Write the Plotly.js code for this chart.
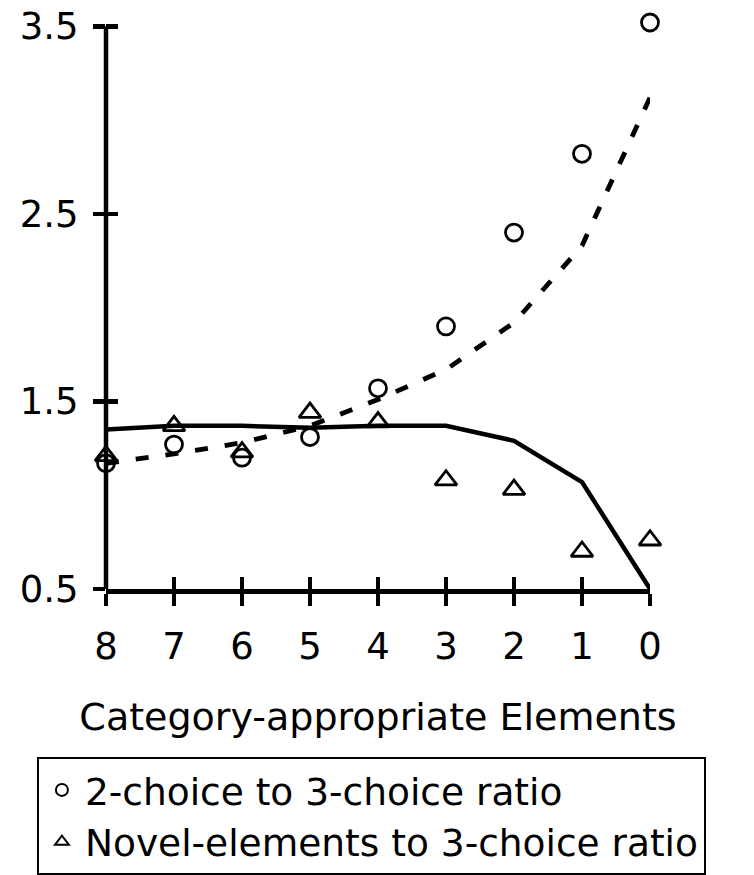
<!DOCTYPE html>
<html>
<head>
<meta charset="utf-8">
<script src="https://cdn.plot.ly/plotly-3.0.1.min.js"></script>
<style>html,body{margin:0;padding:0;background:#fff;}#chart{width:754px;height:875px;}</style>
</head>
<body>
<div id="chart"></div>
<script>
// Category-appropriate elements (x axis, reversed 8 -> 0)
const categories = [8, 7, 6, 5, 4, 3, 2, 1, 0];
// Observed ratios
const twoChoiceRatio = [1.17, 1.27, 1.20, 1.31, 1.57, 1.90, 2.40, 2.82, 3.52];
const novelRatio     = [1.21, 1.37, 1.23, 1.44, 1.39, 1.08, 1.03, 0.70, 0.76];
// Model / fitted curves
const twoChoiceFit = [1.17, 1.22, 1.28, 1.37, 1.51, 1.67, 1.92, 2.33, 3.12];
const novelFit     = [1.35, 1.37, 1.37, 1.36, 1.37, 1.37, 1.29, 1.07, 0.50];
const yTicks = [0.5, 1.5, 2.5, 3.5];
const seriesNames = ["2-choice to 3-choice ratio", "Novel-elements to 3-choice ratio"];
const xTitle = "Category-appropriate Elements";

const FONT = "DejaVu Sans";
// small headroom above the top tick so the highest marker is not hidden
const Y_RANGE = [0.5, 3.56];

const traces = [
  {x: categories, y: twoChoiceFit, mode: "lines", showlegend: false, hoverinfo: "skip", cliponaxis: false,
   line: {color: "#000", width: 4.8, dash: "13px,17px"}},
  {x: categories, y: novelFit, mode: "lines", showlegend: false, hoverinfo: "skip", cliponaxis: false,
   line: {color: "#000", width: 4.5}},
  {x: categories, y: twoChoiceRatio, mode: "markers", name: seriesNames[0], cliponaxis: false,
   marker: {symbol: "circle-open", size: 17, color: "#000", line: {width: 2.8, color: "#000"}}},
  {x: categories, y: novelRatio, mode: "markers", name: seriesNames[1], cliponaxis: false,
   marker: {symbol: "triangle-up-open", size: 19, color: "#000", line: {width: 2.8, color: "#000"}}},
  // invisible helper trace so the overlay axes (inner tick marks) are drawn
  {x: categories, y: novelFit, xaxis: "x2", yaxis: "y2", mode: "markers", showlegend: false,
   hoverinfo: "skip", marker: {opacity: 0, size: 1}}
];

const layout = {
  width: 754, height: 875,
  margin: {l: 106, r: 104, t: 15, b: 286, autoexpand: false},
  paper_bgcolor: "#fff", plot_bgcolor: "#fff",
  font: {family: FONT, color: "#000", size: 37},
  showlegend: true,
  xaxis: {
    range: [8, 0], dtick: 1, tick0: 0, showgrid: false, zeroline: false,
    showline: true, linecolor: "#000", linewidth: 4.5,
    ticks: "outside", ticklen: 12, tickwidth: 4.5, tickcolor: "#000",
    tickfont: {family: FONT, size: 37}, ticklabelstandoff: 9,
    title: {text: xTitle, font: {family: FONT, size: 38}, standoff: 38}
  },
  yaxis: {
    range: Y_RANGE, tickvals: yTicks, ticktext: yTicks.map(v => v.toFixed(1)),
    showgrid: false, zeroline: false, showline: false,
    ticks: "outside", ticklen: 12, tickwidth: 4.5, tickcolor: "#000",
    tickfont: {family: FONT, size: 37}, ticklabelstandoff: 7
  },
  xaxis2: {
    overlaying: "x", range: [8, 0], dtick: 1, tick0: 0, showgrid: false, zeroline: false,
    showline: false, ticks: "inside", ticklen: 12, tickwidth: 4.5, tickcolor: "#000",
    showticklabels: false, side: "bottom"
  },
  yaxis2: {
    overlaying: "y", range: Y_RANGE, tickvals: yTicks, showgrid: false, zeroline: false,
    showline: false, ticks: "inside", ticklen: 12, tickwidth: 4.5, tickcolor: "#000",
    showticklabels: false, side: "left"
  },
  // vertical axis line running from the lowest to the highest tick
  shapes: [{
    type: "line", xref: "paper", x0: 0, x1: 0, yref: "y", y0: yTicks[0], y1: yTicks[yTicks.length - 1],
    line: {color: "#000", width: 4.5}, layer: "above"
  }],
  legend: {
    x: -0.127, xanchor: "left", y: -0.2927, yanchor: "top",
    bordercolor: "#000", borderwidth: 2, bgcolor: "#fff",
    font: {family: FONT, size: 37.5}, itemsizing: "constant", itemwidth: 36, tracegroupgap: 0
  }
};

Plotly.newPlot("chart", traces, layout, {staticPlot: true, displayModeBar: false});
</script>
</body>
</html>
